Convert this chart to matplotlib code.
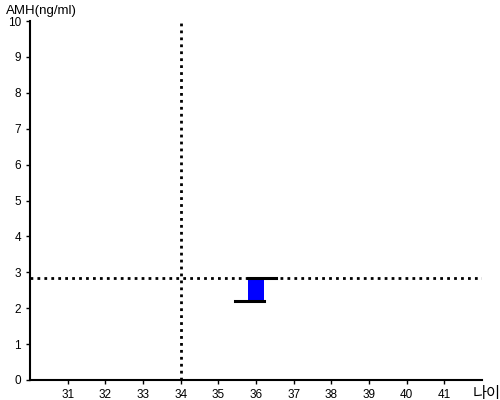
import matplotlib
matplotlib.use("Agg")
import matplotlib.pyplot as plt

plt.rcParams['font.family'] = ['Liberation Sans', 'Noto Sans CJK KR', 'DejaVu Sans']

# data
age_ticks = [31, 32, 33, 34, 35, 36, 37, 38, 39, 40, 41]
y_ticks = [0, 1, 2, 3, 4, 5, 6, 7, 8, 9, 10]
ref_age = 34
ref_amh = 2.84
box_age = 36
box_low = 2.2
box_high = 2.84

fig = plt.figure(figsize=(5, 4), dpi=100)
ax = fig.add_axes([0.06, 0.05, 0.904, 0.8975])
ax.set_xlim(30, 42)
ax.set_ylim(0, 10)

for s in ['top', 'right']:
    ax.spines[s].set_visible(False)
ax.spines['left'].set_linewidth(1.5)
ax.spines['bottom'].set_linewidth(1.5)

ax.set_xticks(age_ticks)
ax.set_yticks(y_ticks)
ax.tick_params(labelsize=8.5, length=3, width=1)

# reference lines
ax.axhline(ref_amh, color='black', linestyle=(0, (1, 1.5)), linewidth=2)
ax.axvline(ref_age, color='black', linestyle=(0, (1, 1.5)), linewidth=2)

# box
w = 0.43
ax.bar(box_age, box_high - box_low, bottom=box_low, width=w, color='#0000ff')
ax.plot([box_age - w / 2, box_age + 0.52], [box_high, box_high], color='black', linewidth=2.2)
ax.plot([box_age - 0.55, box_age + w / 2], [box_low, box_low], color='black', linewidth=2.2)

fig.text(0.012, 0.965, 'AMH(ng/ml)', fontsize=9.5)
fig.text(0.945, 0.005, '나이', fontsize=11)

fig.savefig('out.png', dpi=100)
